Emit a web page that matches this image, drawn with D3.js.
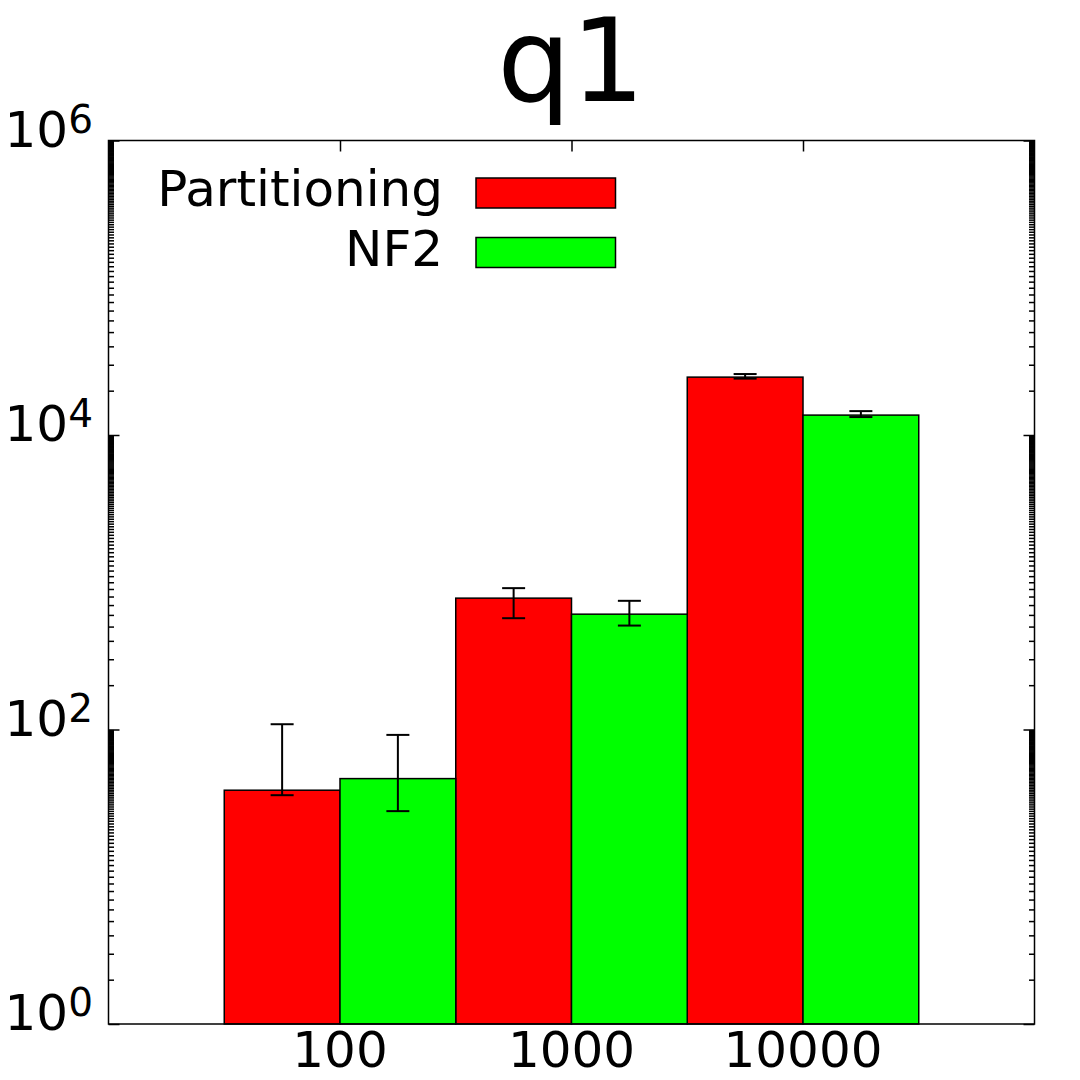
<!DOCTYPE html>
<html>
<head>
<meta charset="utf-8">
<script src="https://cdn.jsdelivr.net/npm/d3@7"></script>
<style>
  body { margin: 0; background: #fff; }
  text { font-family: "DejaVu Sans", sans-serif; fill: #000; }
</style>
</head>
<body>
<div id="chart"></div>
<script>
var width = 1080,
    height = 1080;

// data
var categories = ["100", "1000", "10000"];
var seriesNames = ["Partitioning", "NF2"];
var seriesColors = ["#ff0000", "#00ff00"];
var partitioning = [38.7, 780, 24720];
var partitioningLow = [35.8, 570, 24150];
var partitioningHigh = [108.6, 912, 25940];
var nf2 = [46.4, 607, 13650];
var nf2Low = [27.9, 508, 13240];
var nf2High = [91.9, 748, 14530];
var yMajor = [1, 1e2, 1e4, 1e6];
var yExponents = ["0", "2", "4", "6"];

// plot frame (note: "top" is reserved on window, so use other names)
var plotLeft = 108.5, plotRight = 1034.5, plotTop = 140.5, plotBottom = 1024;

var x = d3.scaleLinear().domain([0, 4]).range([plotLeft, plotRight]);
var y = d3.scaleLog().domain([1, 1e6]).range([plotBottom, plotTop]);

var svg = d3.select("#chart").append("svg")
    .attr("width", width)
    .attr("height", height);

// title
svg.append("text")
    .attr("x", 571)
    .attr("y", 101)
    .attr("text-anchor", "middle")
    .style("font-size", "116px")
    .text("q1");

// bars
var series = [
    { name: seriesNames[0], color: seriesColors[0], values: partitioning, low: partitioningLow, high: partitioningHigh, offset: -0.5 },
    { name: seriesNames[1], color: seriesColors[1], values: nf2, low: nf2Low, high: nf2High, offset: 0 }
];

var barW = 0.5;

series.forEach(function (s) {
    svg.append("g").selectAll("rect")
        .data(s.values)
      .enter().append("rect")
        .attr("x", function (d, i) { return x(i + 1 + s.offset); })
        .attr("width", x(barW) - x(0))
        .attr("y", function (d) { return y(d); })
        .attr("height", function (d) { return plotBottom - y(d); })
        .attr("fill", s.color)
        .attr("stroke", "#000")
        .attr("stroke-width", 1.5);
});

// minor ticks: k * 10^m for k = 2..99
var yMinor = [];
[1, 1e2, 1e4].forEach(function (base) {
    for (var k = 2; k <= 99; k++) yMinor.push(k * base);
});

var axes = svg.append("g").attr("class", "axes");

function styleAxis(g) {
    g.select(".domain").remove();
    g.selectAll("line").attr("stroke", "#000").attr("stroke-width", 1.5);
}

axes.append("g")
    .attr("transform", "translate(" + plotLeft + ",0)")
    .call(d3.axisLeft(y).tickValues(yMinor).tickSize(-5.5).tickFormat(""))
    .call(styleAxis);
axes.append("g")
    .attr("transform", "translate(" + plotLeft + ",0)")
    .call(d3.axisLeft(y).tickValues(yMajor).tickSize(-11).tickFormat(""))
    .call(styleAxis);
axes.append("g")
    .attr("transform", "translate(" + plotRight + ",0)")
    .call(d3.axisRight(y).tickValues(yMinor).tickSize(-5.5).tickFormat(""))
    .call(styleAxis);
axes.append("g")
    .attr("transform", "translate(" + plotRight + ",0)")
    .call(d3.axisRight(y).tickValues(yMajor).tickSize(-11).tickFormat(""))
    .call(styleAxis);
axes.append("g")
    .attr("transform", "translate(0," + plotTop + ")")
    .call(d3.axisTop(x).tickValues([1, 2, 3]).tickSize(-11).tickFormat(""))
    .call(styleAxis);

// frame
svg.append("rect")
    .attr("x", plotLeft)
    .attr("y", plotTop)
    .attr("width", plotRight - plotLeft)
    .attr("height", plotBottom - plotTop)
    .attr("fill", "none")
    .attr("stroke", "#000")
    .attr("stroke-width", 1.5);

// y labels with superscript exponents
var ylab = svg.append("g").selectAll("text")
    .data(yMajor)
  .enter().append("text")
    .attr("x", 93)
    .attr("y", function (d) { return y(d) + 6; })
    .attr("text-anchor", "end")
    .style("font-size", "50px");
ylab.append("tspan").text("10");
ylab.append("tspan")
    .attr("dy", -14)
    .style("font-size", "39px")
    .text(function (d, i) { return yExponents[i]; });

// x labels
svg.append("g").selectAll("text")
    .data(categories)
  .enter().append("text")
    .attr("x", function (d, i) { return x(i + 1); })
    .attr("y", 1067)
    .attr("text-anchor", "middle")
    .style("font-size", "50px")
    .text(function (d) { return d; });

// error bars
var capW = 11.5;
series.forEach(function (s) {
    var g = svg.append("g")
        .attr("stroke", "#000")
        .attr("stroke-width", 2);
    s.values.forEach(function (v, i) {
        var cx = x(i + 1 + s.offset + barW / 2);
        g.append("line")
            .attr("x1", cx).attr("x2", cx)
            .attr("y1", y(s.low[i])).attr("y2", y(s.high[i]));
        g.append("line")
            .attr("x1", cx - capW).attr("x2", cx + capW)
            .attr("y1", y(s.high[i])).attr("y2", y(s.high[i]));
        g.append("line")
            .attr("x1", cx - capW).attr("x2", cx + capW)
            .attr("y1", y(s.low[i])).attr("y2", y(s.low[i]));
    });
});

// legend
var legend = svg.append("g").selectAll("g")
    .data(series)
  .enter().append("g")
    .attr("transform", function (d, i) { return "translate(0," + (i * 59.5) + ")"; });
legend.append("text")
    .attr("x", 443)
    .attr("y", 206)
    .attr("text-anchor", "end")
    .style("font-size", "50px")
    .text(function (d) { return d.name; });
legend.append("rect")
    .attr("x", 476)
    .attr("y", 178)
    .attr("width", 139.5)
    .attr("height", 30)
    .attr("fill", function (d) { return d.color; })
    .attr("stroke", "#000")
    .attr("stroke-width", 1.5);
</script>
</body>
</html>
